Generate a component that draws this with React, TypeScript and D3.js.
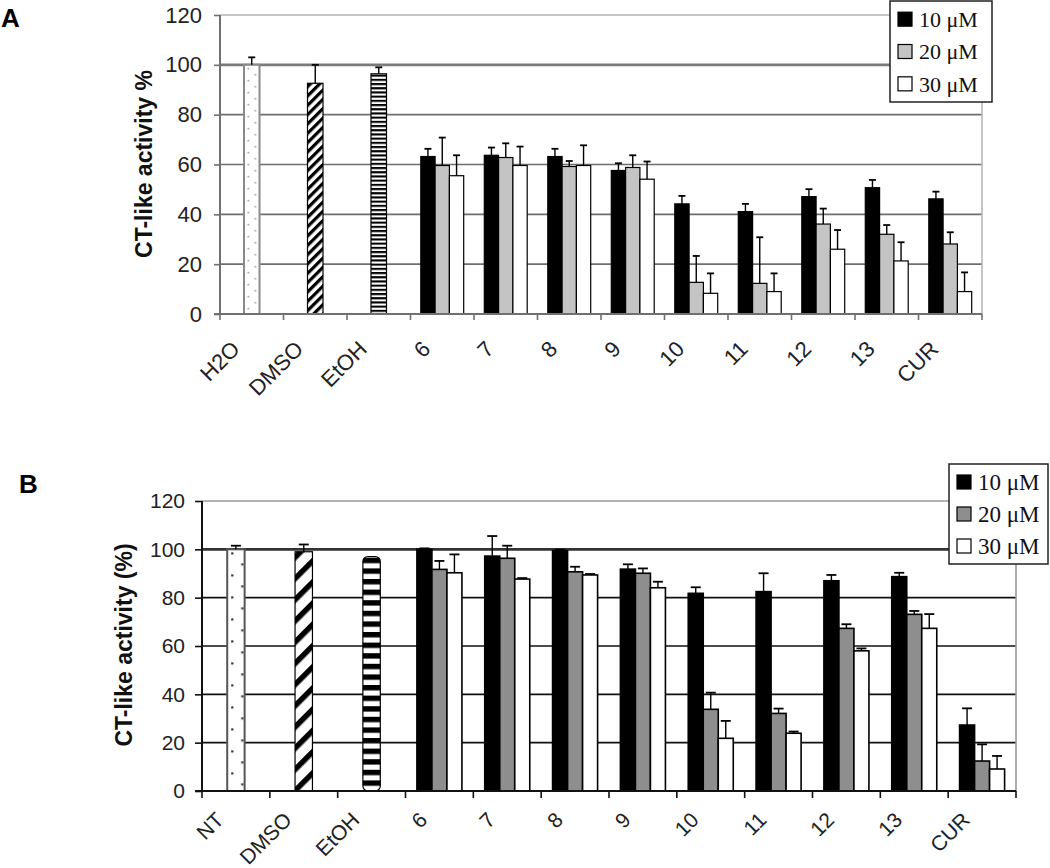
import React, { useEffect, useRef } from 'react';
import * as d3 from 'd3';

const width = 1050;
const height = 868;

// legend entries (concentrations)
const seriesNames = ['10 μM', '20 μM', '30 μM'];

// panel A
const controlsA = ['H2O', 'DMSO', 'EtOH'];
const compoundsA = ['6', '7', '8', '9', '10', '11', '12', '13', 'CUR'];
const controlValuesA = [100, 92.6, 96.4];
const controlErrA = [3, 7.4, 2.6];
const values10A = [63.2, 63.7, 63.2, 57.6, 44.2, 41.1, 47.1, 50.7, 46.2];
const err10A = [3.1, 3.1, 3.1, 2.9, 3.2, 3.1, 3.0, 3.1, 2.9];
const values20A = [59.6, 62.8, 59.2, 58.8, 12.7, 12.3, 36.1, 32.0, 28.1];
const err20A = [11.2, 5.7, 2.2, 4.9, 10.6, 18.5, 6.2, 3.7, 4.7];
const values30A = [55.5, 59.6, 59.6, 54.1, 8.3, 9.0, 26.0, 21.3, 9.0];
const err30A = [8.2, 7.6, 8.1, 7.1, 8.0, 7.3, 7.7, 7.5, 7.7];

// panel B
const controlsB = ['NT', 'DMSO', 'EtOH'];
const compoundsB = ['6', '7', '8', '9', '10', '11', '12', '13', 'CUR'];
const controlValuesB = [100, 99, 97];
const controlErrB = [1.5, 3, 0];
const values10B = [100, 97.2, 99.5, 91.8, 81.8, 82.5, 87, 88.7, 27.3];
const err10B = [0.4, 8.3, 0.4, 2, 2.5, 7.6, 2.4, 1.6, 6.9];
const values20B = [91.7, 96.3, 90.7, 90.1, 33.8, 32.1, 67.3, 73.1, 12.4];
const err20B = [3.5, 5.2, 2.1, 2, 6.9, 2, 1.7, 1.4, 6.9];
const values30B = [90.3, 87.7, 89.4, 84.1, 21.8, 23.9, 58, 67.3, 9.1];
const err30B = [7.6, 0.4, 0.4, 2.5, 7.2, 0.7, 1, 5.9, 5.4];

const yTicks = [0, 20, 40, 60, 80, 100, 120];
const sans = 'Liberation Sans, Arial, Helvetica, sans-serif';
const serif = 'Liberation Serif, Times New Roman, serif';

type Panel = {
  id: string;
  letter: string;
  letterX: number;
  letterY: number;
  title: string;
  titleX: number;
  titleY: number;
  controls: string[];
  compounds: string[];
  controlValues: number[];
  controlErr: number[];
  values: number[][];
  errs: number[][];
  left: number;
  right: number;
  top: number;
  bottom: number;
  outer: number;
  ctrlWidth: number;
  seriesFill: string[];
  gridColor: string;
  grid100: string;
  grid120: string;
  axisColor: string;
  borderColor: string;
  barStroke: number;
  tickLen: number;
  tickFont: number;
  labelDy: number;
  legend: { x: number; y: number; w: number; h: number; font: number };
};

const panelA: Panel = {
  id: 'a', letter: 'A', letterX: 1, letterY: 27,
  title: 'CT-like activity %', titleX: 152, titleY: 164,
  controls: controlsA, compounds: compoundsA,
  controlValues: controlValuesA, controlErr: controlErrA,
  values: [values10A, values20A, values30A], errs: [err10A, err20A, err30A],
  left: 220, right: 982, top: 15, bottom: 314,
  outer: 0.72, ctrlWidth: 15.5,
  seriesFill: ['#000000', '#c4c4c4', '#ffffff'],
  gridColor: '#6e6e6e', grid100: '#7a7a7a', grid120: '#b5b5b5',
  axisColor: '#707070', borderColor: '#b8b8b8', barStroke: 1.2,
  tickLen: 6, tickFont: 22, labelDy: 31,
  legend: { x: 890, y: 1, w: 102, h: 101, font: 22 },
};

const panelB: Panel = {
  id: 'b', letter: 'B', letterX: 19, letterY: 493,
  title: 'CT-like activity (%)', titleX: 132, titleY: 645,
  controls: controlsB, compounds: compoundsB,
  controlValues: controlValuesB, controlErr: controlErrB,
  values: [values10B, values20B, values30B], errs: [err10B, err20B, err30B],
  left: 202, right: 1016, top: 501, bottom: 791,
  outer: 0.76, ctrlWidth: 17.4,
  seriesFill: ['#000000', '#8e8e8e', '#ffffff'],
  gridColor: '#111111', grid100: '#333333', grid120: '#9a9a9a',
  axisColor: '#111111', borderColor: '#9a9a9a', barStroke: 1.6,
  tickLen: 7, tickFont: 21, labelDy: 25,
  legend: { x: 949, y: 464, w: 99, h: 100, font: 23 },
};

function drawPanel(svg: any, defs: any, p: Panel) {
  const categories = [...p.controls, ...p.compounds];
  const x = d3.scaleBand().domain(categories.map((c, i) => c + '_' + i)).range([p.left, p.right]);
  const keys = categories.map((c, i) => c + '_' + i);
  const y = d3.scaleLinear().domain([0, 120]).range([p.bottom, p.top]);
  const sub = d3.scaleBand().domain(seriesNames).range([0, x.bandwidth()]).paddingOuter(p.outer);
  const g = svg.append('g');

  // gridlines
  const legendLeft = p.legend.x;
  yTicks.filter((t) => t > 0).forEach((t) => {
    g.append('line')
      .attr('x1', p.left).attr('x2', t === 120 ? legendLeft : p.right)
      .attr('y1', y(t)).attr('y2', y(t))
      .attr('stroke', t === 120 ? p.grid120 : t === 100 ? p.grid100 : p.gridColor)
      .attr('stroke-width', t === 100 ? 2.6 : 1.6);
  });
  // right border
  g.append('line')
    .attr('x1', p.right).attr('x2', p.right)
    .attr('y1', p.id === 'a' ? y(120) : p.legend.y + p.legend.h).attr('y2', y(0))
    .attr('stroke', p.borderColor).attr('stroke-width', 1.6);

  // control bars with patterns
  p.controls.forEach((name, i) => {
    const key = keys[i];
    const cx = (x(key) as number) + x.bandwidth() / 2;
    const bx = cx - p.ctrlWidth / 2;
    const top = y(p.controlValues[i]);
    const pid = `pat-${p.id}-${i}`;
    const pat = defs.append('pattern').attr('id', pid).attr('patternUnits', 'userSpaceOnUse');
    if (i === 0) {
      // dotted
      const ph = p.id === 'a' ? 12 : 22;
      pat.attr('x', bx).attr('y', top).attr('width', p.ctrlWidth).attr('height', ph);
      pat.append('rect').attr('width', p.ctrlWidth).attr('height', ph).attr('fill', '#fff');
      const dotColor = p.id === 'a' ? '#9a9a9a' : '#333';
      const ds = p.id === 'a' ? 1.6 : 2.2;
      pat.append('rect').attr('x', p.id === 'a' ? 3.5 : 4).attr('y', 3).attr('width', ds).attr('height', ds).attr('fill', dotColor);
      pat.append('rect').attr('x', p.id === 'a' ? 10.5 : 14).attr('y', 3 + ph / 2).attr('width', ds).attr('height', ds).attr('fill', dotColor);
    } else if (i === 1) {
      // diagonal stripes
      const per = p.id === 'a' ? 6.6 : 15;
      const sw = p.id === 'a' ? 3.2 : 5.5;
      pat.attr('width', per).attr('height', per).attr('patternTransform', 'rotate(45)');
      pat.append('rect').attr('width', per).attr('height', per).attr('fill', '#fff');
      pat.append('rect').attr('width', sw).attr('height', per).attr('fill', '#000');
    } else {
      // horizontal stripes
      const per = p.id === 'a' ? 4.2 : 10.6;
      const sw = p.id === 'a' ? 2.1 : 5.4;
      pat.attr('x', 0).attr('y', y(0)).attr('width', 20).attr('height', per);
      pat.append('rect').attr('width', 20).attr('height', per).attr('fill', '#fff');
      pat.append('rect').attr('width', 20).attr('height', sw).attr('fill', '#000');
    }
    const stroke = i === 0 ? (p.id === 'a' ? '#8a8a8a' : '#555') : '#000';
    g.append('rect')
      .attr('x', bx).attr('y', top)
      .attr('width', p.ctrlWidth).attr('height', y(0) - top)
      .attr('rx', i === 2 && p.id === 'b' ? 5 : 0)
      .attr('fill', `url(#${pid})`)
      .attr('stroke', stroke).attr('stroke-width', i === 0 ? 2 : 1.2);
    if (p.controlErr[i] > 0) drawErr(g, cx, y(p.controlValues[i]), y(p.controlValues[i] + p.controlErr[i]), p.id === 'a' ? 7 : 10);
  });

  // grouped bars
  p.compounds.forEach((name, j) => {
    const key = keys[p.controls.length + j];
    const gx = x(key) as number;
    seriesNames.forEach((s, k) => {
      const v = p.values[k][j];
      const bx = gx + (sub(s) as number);
      g.append('rect')
        .attr('x', bx).attr('y', y(v))
        .attr('width', sub.bandwidth()).attr('height', y(0) - y(v))
        .attr('fill', p.seriesFill[k])
        .attr('stroke', '#000').attr('stroke-width', p.barStroke);
    });
    seriesNames.forEach((s, k) => {
      const v = p.values[k][j];
      const cx = gx + (sub(s) as number) + sub.bandwidth() / 2;
      drawErr(g, cx, y(v), y(v + p.errs[k][j]), p.id === 'a' ? 7 : 10);
    });
  });

  // y axis
  const yAxis = d3.axisLeft(y).tickValues(yTicks).tickSize(p.tickLen).tickPadding(p.id === 'a' ? 12 : 10);
  const ya = g.append('g').attr('transform', `translate(${p.left},0)`).call(yAxis);
  ya.select('.domain').remove();
  ya.selectAll('line').attr('stroke', p.axisColor).attr('stroke-width', 1.6);
  ya.selectAll('text').attr('font-family', sans).attr('font-size', p.tickFont).attr('fill', '#222');
  g.append('line').attr('x1', p.left).attr('x2', p.left).attr('y1', y(120)).attr('y2', y(0))
    .attr('stroke', p.axisColor).attr('stroke-width', 2);

  // x axis with ticks between categories
  g.append('line').attr('x1', p.left - p.tickLen).attr('x2', p.right).attr('y1', y(0)).attr('y2', y(0))
    .attr('stroke', p.axisColor).attr('stroke-width', 2);
  const bounds = [...keys.map((k) => x(k) as number), p.right];
  g.selectAll('.xt').data(bounds).enter().append('line')
    .attr('x1', (d: number) => d).attr('x2', (d: number) => d)
    .attr('y1', y(0)).attr('y2', y(0) + p.tickLen)
    .attr('stroke', p.axisColor).attr('stroke-width', 1.6);
  g.selectAll('.xl').data(categories).enter().append('text')
    .attr('transform', (d: string, i: number) => `translate(${(x(keys[i]) as number) + x.bandwidth() / 2 - 16},${y(0) + p.labelDy}) rotate(-45)`)
    .attr('text-anchor', 'end')
    .attr('dy', '0.35em')
    .attr('font-family', sans).attr('font-size', p.tickFont).attr('fill', '#222')
    .text((d: string) => d);

  // axis title and panel letter
  g.append('text')
    .attr('transform', `translate(${p.titleX},${p.titleY}) rotate(-90)`)
    .attr('text-anchor', 'middle')
    .attr('font-family', sans).attr('font-weight', 'bold').attr('font-size', 23).attr('fill', '#111')
    .text(p.title);
  g.append('text').attr('x', p.letterX).attr('y', p.letterY)
    .attr('font-family', sans).attr('font-weight', 'bold').attr('font-size', 26).attr('fill', '#000')
    .text(p.letter);

  // legend
  const L = p.legend;
  const lg = g.append('g');
  lg.append('rect').attr('x', L.x).attr('y', L.y).attr('width', L.w).attr('height', L.h)
    .attr('fill', '#fff').attr('stroke', '#222').attr('stroke-width', 1.5);
  const rowH = (L.h - 4) / 3;
  seriesNames.forEach((s, k) => {
    const cy = L.y + 2 + rowH * (k + 0.5);
    lg.append('rect').attr('x', L.x + 8).attr('y', cy - 7).attr('width', 14).attr('height', 14)
      .attr('fill', p.seriesFill[k]).attr('stroke', '#000').attr('stroke-width', 1.2);
    lg.append('text').attr('x', L.x + 29).attr('y', cy).attr('dy', '0.35em')
      .attr('font-family', serif).attr('font-size', L.font).attr('fill', '#111')
      .text(s);
  });
}

function drawErr(g: any, cx: number, y0: number, y1: number, cap: number) {
  g.append('line').attr('x1', cx).attr('x2', cx).attr('y1', y0).attr('y2', y1)
    .attr('stroke', '#000').attr('stroke-width', 1.4);
  g.append('line').attr('x1', cx - cap / 2).attr('x2', cx + cap / 2).attr('y1', y1).attr('y2', y1)
    .attr('stroke', '#000').attr('stroke-width', 1.8);
}

export default function App() {
  const ref = useRef<SVGSVGElement | null>(null);

  useEffect(() => {
    const svg = d3.select(ref.current);
    svg.selectAll('*').remove();
    svg.append('rect').attr('width', width).attr('height', height).attr('fill', '#fff');
    const defs = svg.append('defs');
    drawPanel(svg, defs, panelA);
    drawPanel(svg, defs, panelB);
  }, []);

  return (
    <div style={{ position: 'absolute', left: 0, top: 0 }}>
      <svg ref={ref} width={width} height={height} style={{ display: 'block' }} />
    </div>
  );
}
